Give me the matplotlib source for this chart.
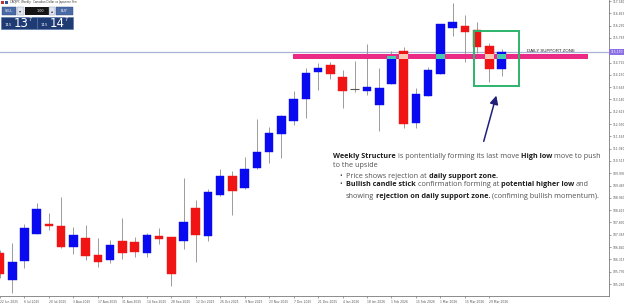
import matplotlib
matplotlib.use("Agg")
import matplotlib.pyplot as plt
from matplotlib.patches import Rectangle
from matplotlib.font_manager import FontProperties

W, H, DPI = 624, 303, 100

# ---------------- data ----------------
tick_dates = ["22 Jun 2025", "6 Jul 2025", "20 Jul 2025", "3 Aug 2025", "17 Aug 2025",
              "31 Aug 2025", "14 Sep 2025", "28 Sep 2025", "12 Oct 2025", "26 Oct 2025",
              "9 Nov 2025", "23 Nov 2025", "7 Dec 2025", "21 Dec 2025", "4 Jan 2026",
              "18 Jan 2026", "1 Feb 2026", "15 Feb 2026", "1 Mar 2026", "15 Mar 2026",
              "29 Mar 2026"]

opens = [106.59, 105.44, 106.25, 107.40, 107.83, 107.74, 106.84, 107.23, 106.50, 106.29,
         107.10, 107.06, 106.59, 107.31, 107.27, 107.10, 108.51, 107.31, 109.06, 109.87,
         109.36, 110.22, 110.90, 111.67, 112.22, 113.16, 114.31, 114.61, 114.10, 113.59,
         113.50, 112.90, 113.80, 115.21, 112.14, 113.29, 114.23, 116.19, 116.28, 116.11,
         115.42, 114.44]
highs = [106.72, 107.01, 107.83, 108.72, 108.30, 108.98, 107.70, 107.78, 107.23, 107.14,
         108.08, 107.27, 107.44, 107.66, 107.29, 109.79, 108.85, 109.32, 110.17, 110.09,
         110.69, 112.31, 111.97, 112.46, 113.50, 114.48, 114.70, 114.74, 114.40, 114.78,
         115.51, 114.48, 115.21, 115.38, 113.63, 114.53, 116.38, 117.26, 116.75, 116.45,
         115.55, 115.29]
lows = [105.52, 104.88, 105.95, 107.38, 107.57, 106.82, 106.55, 106.29, 105.99, 106.16,
        106.33, 106.42, 106.42, 106.97, 105.18, 106.76, 106.20, 107.10, 109.04, 108.21,
        109.34, 110.17, 110.43, 110.64, 112.05, 112.35, 113.55, 114.01, 112.78, 113.46,
        113.33, 111.80, 113.78, 111.92, 111.92, 113.27, 114.21, 115.85, 114.74, 115.12,
        113.89, 114.14]
closes = [105.69, 106.20, 107.66, 108.47, 107.74, 106.84, 107.36, 106.46, 106.20, 106.93,
          106.59, 106.63, 107.36, 107.19, 105.69, 107.91, 107.36, 109.19, 109.87, 109.23,
          110.17, 110.90, 111.71, 112.44, 113.16, 114.27, 114.48, 114.23, 113.50, 113.59,
          113.67, 113.63, 115.00, 112.09, 113.37, 114.40, 116.36, 116.45, 116.02, 115.38,
          114.44, 115.17]

price_ticks = [105.265, 105.790, 106.315, 106.840, 107.365, 107.890, 108.415, 108.940,
               109.465, 109.990, 110.515, 111.040, 111.565, 112.090, 112.615, 113.140,
               113.665, 114.190, 114.715, 115.240, 115.765, 116.290, 116.815, 117.340]

bid_price = 115.17
zone_low, zone_high = 114.87, 115.08
zone_start, zone_end = 23.96, 48.07
box_x0, box_x1, box_y0, box_y1 = 38.75, 42.43, 113.72, 116.06

BLUE, RED = "#0a0af0", "#f01414"

# ---------------- figure ----------------
fig = plt.figure(figsize=(W / DPI, H / DPI), dpi=DPI)
fig.patch.set_facecolor("white")

ax = fig.add_axes([0, 7 / H, 609 / W, 296 / H])
ax.set_xlim(0.02, 49.78)
ax.set_ylim(104.753, 117.386)
ax.set_facecolor("white")
for s in ["left", "top"]:
    ax.spines[s].set_visible(False)
for s in ["right", "bottom"]:
    ax.spines[s].set_color("#7a7a7a")
    ax.spines[s].set_linewidth(0.6)

ax.yaxis.tick_right()
ax.set_yticks(price_ticks)
ax.set_yticklabels([f"{v:.3f}" for v in price_ticks], fontsize=2.2, color="#333333",
                   family="DejaVu Sans")
ax.tick_params(axis="y", length=1.5, width=0.4, pad=1, colors="#555555")
ax.set_xticks(range(0, 2 * len(tick_dates), 2))
ax.set_xticklabels(tick_dates, fontsize=2.2, color="#333333", ha="left")
ax.tick_params(axis="x", length=1.5, width=0.4, pad=1.2, colors="#555555")

# bid line
ax.axhline(bid_price, color="#aab3d6", lw=0.9, zorder=1)

# candles
bw = 0.7
for i, (o, h, l, c) in enumerate(zip(opens, highs, lows, closes)):
    ax.vlines(i, l, h, color="#8c8c8c", lw=0.6, zorder=2)
    if abs(c - o) < 1e-9:
        ax.hlines(o, i - bw / 2, i + bw / 2, color="#555555", lw=0.8, zorder=2)
        continue
    col = BLUE if c > o else RED
    ax.add_patch(Rectangle((i - bw / 2, min(o, c)), bw, abs(c - o), facecolor=col,
                           edgecolor=col, lw=0.3, zorder=2.2))

# support zone
ax.add_patch(Rectangle((zone_start, zone_low), zone_end - zone_start, zone_high - zone_low,
                       facecolor="#ea2a85", edgecolor="none", zorder=3))
for i, (o, c) in enumerate(zip(opens, closes)):
    lo, hi = max(min(o, c), zone_low), min(max(o, c), zone_high)
    if hi > lo and zone_start < i < zone_end:
        col = "#46cbb3" if c > o else "#f7c9b2"
        ax.add_patch(Rectangle((i - bw / 2, lo), bw, hi - lo, facecolor=col,
                               edgecolor="none", zorder=3.5))

ax.text(43.08, bid_price + 0.02, "DAILY SUPPORT ZONE", fontsize=3.2, color="#222222",
        family="Liberation Sans", va="center", ha="left", zorder=4)

# green box
ax.add_patch(Rectangle((box_x0, box_y0), box_x1 - box_x0, box_y1 - box_y0, fill=False,
                       edgecolor="#2db36b", lw=1.4, zorder=5))
# arrow
ax.annotate("", xy=(40.63, 113.42), xytext=(39.48, 111.24),
            arrowprops=dict(arrowstyle="-|>,head_length=0.5,head_width=0.25",
                            color="#20207a", lw=1.1), zorder=6)

# ---------------- overlay (pixel space) ----------------
ov = fig.add_axes([0, 0, 1, 1])
ov.set_xlim(0, W)
ov.set_ylim(H, 0)
ov.axis("off")
ov.patch.set_alpha(0)

# purple current price label
ov.add_patch(Rectangle((609, 49), 15, 6, facecolor="#8c6fe6", edgecolor="none"))
ov.text(611, 52.2, f"{bid_price:.3f}", fontsize=2.2, color="white", va="center", ha="left")

# title row
ov.add_patch(Rectangle((1, 0.5), 3, 3, facecolor="#c03030", edgecolor="none"))
ov.add_patch(Rectangle((4.5, 0.5), 3, 3, facecolor="#3050a0", edgecolor="none"))
ov.text(10, 2.3, "CADJPY, Weekly:  Canadian Dollar vs Japanese Yen", fontsize=1.9,
        color="#333333", va="center", ha="left")

# one-click panel
btn = "#4a6aa6"
ov.add_patch(Rectangle((2, 7), 13.5, 8, facecolor=btn, edgecolor="#2c4a80", lw=0.3))
ov.text(8.75, 11.2, "SELL", fontsize=2.4, color="white", ha="center", va="center")
ov.add_patch(Rectangle((17, 7), 7, 8, facecolor="#dfe4ee", edgecolor="#8090b0", lw=0.3))
ov.text(20.5, 11, "▾", fontsize=3, color="#333333", ha="center", va="center")
ov.add_patch(Rectangle((24.5, 7), 24, 8, facecolor="#151515", edgecolor="none"))
ov.text(44, 11.2, "1.00", fontsize=2.4, color="white", ha="right", va="center")
ov.add_patch(Rectangle((48.5, 7), 6.5, 8, facecolor="#dfe4ee", edgecolor="#8090b0", lw=0.3))
ov.text(51.75, 11, "▴", fontsize=3, color="#333333", ha="center", va="center")
ov.add_patch(Rectangle((56, 7), 16.5, 8, facecolor=btn, edgecolor="#2c4a80", lw=0.3))
ov.text(64.25, 11.2, "BUY", fontsize=2.4, color="white", ha="center", va="center")

navy = "#1f3b74"
for x0, big in [(1, "13"), (37, "14")]:
    ov.add_patch(Rectangle((x0, 16.5), 35.5, 12.5, facecolor=navy, edgecolor="#5070a8", lw=0.4))
    ov.text(x0 + 7.5, 25, "115", fontsize=2.8, color="white", ha="center", va="center")
    ov.text(x0 + 20, 23.3, big, fontsize=8.5, color="white", ha="center", va="center")
    ov.text(x0 + 29.5, 19.8, "7", fontsize=3.4, color="white", ha="center", va="center")

# ---------------- annotation text ----------------
fig.canvas.draw()
r = fig.canvas.get_renderer()

def width(txt, fp):
    w1, _, _ = r.get_text_width_height_descent("|" + txt + "|", fp, ismath=False)
    w0, _, _ = r.get_text_width_height_descent("||", fp, ismath=False)
    return w1 - w0

lines = [
    (333, 157.5, False, [("Weekly Structure", True), (" is pontentially forming its last move ", False),
                         ("High low", True), (" move to push", False)]),
    (333, 167.0, False, [("to the upside", False)]),
    (346, 178.5, True, [("Price shows rejection at ", False), ("daily support zone.", True)]),
    (346, 186.5, True, [("Bullish candle stick", True), (" confirmation forming at ", False),
                        ("potential higher low", True), (" and", False)]),
    (346, 197.5, False, [("showing ", False), ("rejection on daily support zone.", True),
                         (" (confiming bullish momentum).", False)]),
]

def fp_for(bold, size):
    return FontProperties(family="Open Sans", weight="bold" if bold else "normal", size=size)

# fit font size to first line width (~265 px)
base = 10.0
w_first = sum(width(t, fp_for(b, base)) for t, b in lines[0][3])
fs = base * 265.0 / w_first

for x, y, bullet, runs in lines:
    if bullet:
        ov.text(x - 7, y, "•", fontproperties=fp_for(False, fs), color="#444444",
                va="baseline", ha="left")
    for txt, bold in runs:
        fp = fp_for(bold, fs)
        lead = len(txt) - len(txt.lstrip(" "))
        xs = x + width(txt[:lead], fp) if lead else x
        ov.text(xs, y, txt.strip(" "), fontproperties=fp,
                color="#1e1e1e" if bold else "#505050", va="baseline", ha="left")
        x += width(txt, fp)

fig.savefig("out.png", dpi=DPI, facecolor="white")
